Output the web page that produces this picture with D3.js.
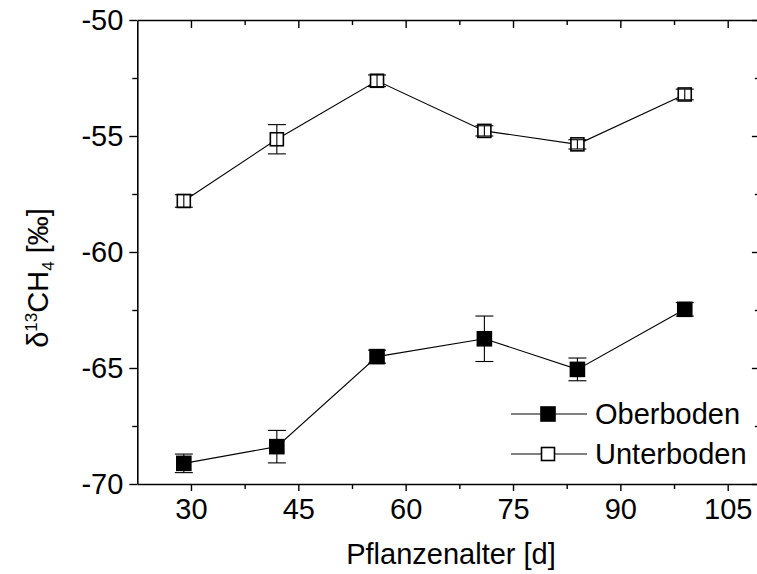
<!DOCTYPE html>
<html>
<head>
<meta charset="utf-8">
<script src="https://cdn.jsdelivr.net/npm/d3@7/dist/d3.min.js"></script>
<style>
  html, body { margin: 0; padding: 0; background: #fff; }
  svg text { font-family: "Liberation Sans", Arial, sans-serif; fill: #000; }
</style>
</head>
<body>
<svg id="chart" width="757" height="574"></svg>
<script>
// Plant age (days) and δ13C of CH4 for the two soil layers
const ages = [29, 42, 56, 71, 84, 99];
const oberboden = [-69.11, -68.39, -64.51, -63.74, -65.06, -62.47];
const oberbodenErr = [0.40, 0.70, 0.28, 0.98, 0.49, 0.29];
const unterboden = [-57.80, -55.14, -52.62, -54.78, -55.36, -53.21];
const unterbodenErr = [0.27, 0.63, 0.25, 0.22, 0.20, 0.23];
const xTicks = [30, 45, 60, 75, 90, 105];
const xMinor = [37.5, 52.5, 67.5, 82.5, 97.5];
const yTicks = [-70, -65, -60, -55, -50];
const yMinor = [-67.5, -62.5, -57.5, -52.5];

const svg = d3.select("#chart");
const plotLeft = 137.3, plotRight = 759.9, plotTop = 20, plotBottom = 484;

const x = d3.scaleLinear().domain([22.5, 109.5]).range([plotLeft, plotRight]);
const y = d3.scaleLinear().domain([-70, -50]).range([plotBottom, plotTop]);

const fontSize = 29;
const plainNumber = d => String(d); // keeps the ASCII hyphen as minus sign

function styleAxis(g) {
  g.select(".domain").attr("stroke", "#000").attr("stroke-width", 1.6);
  g.selectAll(".tick line").attr("stroke", "#000").attr("stroke-width", 1.4);
}

// bottom axis (major + minor)
const gx = svg.append("g").attr("transform", `translate(0,${plotBottom})`)
  .call(d3.axisBottom(x).tickValues(xTicks).tickSize(7).tickSizeOuter(0).tickPadding(7).tickFormat(plainNumber));
styleAxis(gx);
gx.selectAll(".tick text").style("font-size", fontSize + "px").attr("fill", "#000");
svg.append("g").attr("transform", `translate(0,${plotBottom})`)
  .call(d3.axisBottom(x).tickValues(xMinor).tickSize(5).tickSizeOuter(0).tickFormat(""))
  .call(g => { g.select(".domain").remove(); styleAxis(g); });

// top axis, ticks pointing inward
const gt = svg.append("g").attr("transform", `translate(0,${plotTop})`)
  .call(d3.axisBottom(x).tickValues(xTicks).tickSize(8).tickSizeOuter(0).tickFormat(""));
styleAxis(gt);
svg.append("g").attr("transform", `translate(0,${plotTop})`)
  .call(d3.axisBottom(x).tickValues(xMinor).tickSize(5).tickSizeOuter(0).tickFormat(""))
  .call(g => { g.select(".domain").remove(); styleAxis(g); });

// left axis
const gy = svg.append("g").attr("transform", `translate(${plotLeft},0)`)
  .call(d3.axisLeft(y).tickValues(yTicks).tickSize(8).tickSizeOuter(0).tickPadding(6).tickFormat(plainNumber));
styleAxis(gy);
gy.selectAll(".tick text").style("font-size", fontSize + "px").attr("fill", "#000");
svg.append("g").attr("transform", `translate(${plotLeft},0)`)
  .call(d3.axisLeft(y).tickValues(yMinor).tickSize(5).tickSizeOuter(0).tickFormat(""))
  .call(g => { g.select(".domain").remove(); styleAxis(g); });

// right axis, ticks pointing inward
const gr = svg.append("g").attr("transform", `translate(${plotRight},0)`)
  .call(d3.axisLeft(y).tickValues(yTicks).tickSize(8).tickSizeOuter(0).tickFormat(""));
styleAxis(gr);
svg.append("g").attr("transform", `translate(${plotRight},0)`)
  .call(d3.axisLeft(y).tickValues(yMinor).tickSize(5).tickSizeOuter(0).tickFormat(""))
  .call(g => { g.select(".domain").remove(); styleAxis(g); });

// series
const series = [
  { name: "Oberboden", values: oberboden, err: oberbodenErr, fill: "#000", size: 14 },
  { name: "Unterboden", values: unterboden, err: unterbodenErr, fill: "#fff", size: 13 }
];

const line = d3.line().x(d => x(d[0])).y(d => y(d[1]));
const capHalf = 9;

series.forEach(s => {
  const pts = ages.map((a, i) => [a, s.values[i], s.err[i]]);
  const g = svg.append("g");
  g.append("path").datum(pts).attr("d", line)
    .attr("fill", "none").attr("stroke", "#000").attr("stroke-width", 1.1);
  g.selectAll("rect.m").data(pts).join("rect").attr("class", "m")
    .attr("x", d => x(d[0]) - s.size / 2).attr("y", d => y(d[1]) - s.size / 2)
    .attr("width", s.size).attr("height", s.size)
    .attr("fill", s.fill).attr("stroke", "#000").attr("stroke-width", 1.6);
  const eb = g.selectAll("g.eb").data(pts).join("g").attr("class", "eb")
    .attr("stroke", "#000").attr("stroke-width", 1.1);
  eb.append("line")
    .attr("x1", d => x(d[0])).attr("x2", d => x(d[0]))
    .attr("y1", d => y(d[1] - d[2])).attr("y2", d => y(d[1] + d[2]));
  eb.append("line")
    .attr("x1", d => x(d[0]) - capHalf).attr("x2", d => x(d[0]) + capHalf)
    .attr("y1", d => y(d[1] + d[2])).attr("y2", d => y(d[1] + d[2]));
  eb.append("line")
    .attr("x1", d => x(d[0]) - capHalf).attr("x2", d => x(d[0]) + capHalf)
    .attr("y1", d => y(d[1] - d[2])).attr("y2", d => y(d[1] - d[2]));
});

// legend
const legend = svg.append("g");
series.forEach((s, i) => {
  const ly = 414 + i * 40;
  legend.append("line").attr("x1", 511).attr("x2", 587).attr("y1", ly).attr("y2", ly)
    .attr("stroke", "#000").attr("stroke-width", 1.1);
  legend.append("rect").attr("x", 548 - s.size / 2).attr("y", ly - s.size / 2)
    .attr("width", s.size).attr("height", s.size)
    .attr("fill", s.fill).attr("stroke", "#000").attr("stroke-width", 1.6);
  legend.append("text").attr("x", 595).attr("y", ly + 10)
    .style("font-size", fontSize + "px").text(s.name);
});

// axis titles
svg.append("text").attr("x", 451).attr("y", 564).attr("text-anchor", "middle")
  .style("font-size", fontSize + "px").text("Pflanzenalter [d]");

const yt = svg.append("text").attr("transform", "translate(48,278) rotate(-90)")
  .attr("text-anchor", "middle").style("font-size", fontSize + "px");
yt.append("tspan").text("δ");
yt.append("tspan").attr("dy", -11).style("font-size", "17px").text("13");
yt.append("tspan").attr("dy", 11).text("CH");
yt.append("tspan").attr("dy", 6).style("font-size", "17px").text("4");
yt.append("tspan").attr("dy", -6).text(" [‰]");
</script>
</body>
</html>
